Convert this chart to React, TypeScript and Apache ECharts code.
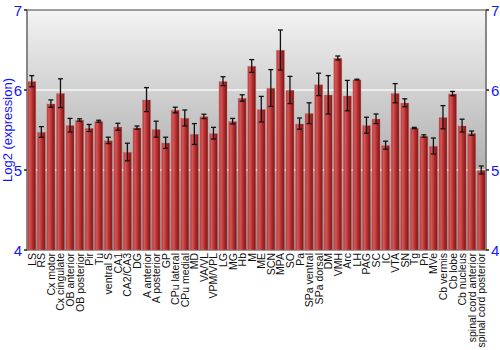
import React, { useEffect, useRef } from "react";
import * as echarts from "echarts";

const categories = [
  "LS", "RS", "Cx motor", "Cx cingulate", "OB anterior", "OB posterior", "Pir", "Tu",
  "ventral S", "CA1", "CA2/CA3", "DG", "A anterior", "A posterior", "GP", "CPu lateral",
  "CPu medial", "MD", "VA/VL", "VPM/VPL", "LG", "MG", "Hb", "M", "ME", "SCN", "MPA",
  "SO", "Pa", "SPa ventral", "SPa dorsal", "DM", "VMH", "Arc", "LH", "PAG", "SC", "IC",
  "VTA", "SN", "Tg", "Pn", "MVe", "Cb vermis", "Cb lobe", "Cb nucleus",
  "spinal cord anterior", "spinal cord posterior",
];

const values = [
  6.11, 5.475, 5.83, 5.96, 5.56, 5.625, 5.525, 5.61,
  5.37, 5.54, 5.225, 5.53, 5.88, 5.51, 5.34, 5.75,
  5.65, 5.45, 5.67, 5.46, 6.11, 5.61, 5.9, 6.3, 5.76, 6.025, 6.5,
  6.0, 5.58, 5.71, 6.07, 5.94, 6.4, 5.93, 6.13, 5.56, 5.64, 5.31,
  5.96, 5.84, 5.525, 5.425, 5.3, 5.66, 5.955, 5.555,
  5.46, 5.0,
];

const errors = [
  0.07, 0.067, 0.046, 0.18, 0.085, 0.015, 0.044, 0.012,
  0.04, 0.044, 0.11, 0.02, 0.15, 0.1, 0.07, 0.035,
  0.1, 0.13, 0.027, 0.073, 0.056, 0.035, 0.04, 0.08, 0.16, 0.23, 0.25,
  0.17, 0.07, 0.13, 0.14, 0.24, 0.025, 0.19, 0.005, 0.1, 0.06, 0.05,
  0.12, 0.05, 0.008, 0.015, 0.1, 0.145, 0.027, 0.08,
  0.027, 0.05,
];

const yTicks = { min: 4, max: 7, interval: 1 };

export default function App() {
  const ref = useRef<HTMLDivElement>(null);

  useEffect(() => {
    if (!ref.current) return;
    const chart = echarts.init(ref.current, undefined, { renderer: "svg" });
    const blue = "#1414ff";
    const errData = values.map((v, i) => [i, v - errors[i], v + errors[i]]);

    const yAxisCommon = {
      type: "value",
      min: yTicks.min,
      max: yTicks.max,
      interval: yTicks.interval,
      axisLine: { show: true, lineStyle: { color: "#808080", width: 1.5 } },
      axisTick: { show: true, length: 3, lineStyle: { color: "#222", width: 1.5 } },
      axisLabel: { color: blue, fontSize: 15, fontFamily: "Liberation Sans, Arial, sans-serif", margin: 5 },
    };

    chart.setOption({
      animation: false,
      grid: {
        left: 27,
        right: 14,
        top: 10,
        bottom: 100,
        containLabel: false,
        outerBoundsMode: "none",
        show: true,
        borderColor: "#808080",
        borderWidth: 1.5,
        backgroundColor: {
          type: "linear",
          x: 0, y: 0, x2: 0, y2: 1,
          colorStops: [
            { offset: 0, color: "#f3f3f3" },
            { offset: 1, color: "#8e8e8e" },
          ],
        },
      },
      xAxis: {
        type: "category",
        data: categories,
        axisLine: { show: false },
        axisTick: { show: false },
        axisLabel: {
          interval: 0,
          rotate: 90,
          fontSize: 10.5,
          color: "#111",
          margin: 3,
          fontFamily: "Liberation Sans, Arial, sans-serif",
        },
      },
      yAxis: [
        {
          ...yAxisCommon,
          position: "left",
          name: "Log2 (expression)",
          nameLocation: "middle",
          nameGap: 13,
          nameMoveOverlap: false,
          nameTextStyle: { color: blue, fontSize: 13, fontFamily: "Liberation Sans, Arial, sans-serif" },
          splitLine: {
            show: true,
            lineStyle: {
              color: ["rgba(0,0,0,0)", "rgba(240,240,240,0.9)", "rgba(240,240,240,0.9)", "rgba(0,0,0,0)"],
              width: 2,
            },
          },
        },
        {
          ...yAxisCommon,
          position: "right",
          splitLine: { show: false },
        },
      ],
      series: [
        {
          type: "bar",
          data: values,
          barCategoryGap: "10%",
          itemStyle: {
            color: {
              type: "linear",
              x: 0, y: 0, x2: 1, y2: 0,
              colorStops: [
                { offset: 0, color: "#b23434" },
                { offset: 0.25, color: "#d45656" },
                { offset: 0.6, color: "#b22e2e" },
                { offset: 1, color: "#7a1212" },
              ],
            },
            borderColor: "rgba(210,120,120,0.6)",
            borderWidth: 0.6,
          },
          z: 2,
        },
        {
          type: "custom",
          data: errData,
          z: 3,
          renderItem: (params: any, api: any) => {
            const x = api.value(0);
            const lo = api.value(1);
            const hi = api.value(2);
            const pHi = api.coord([x, hi]);
            const pLo = api.coord([x, lo]);
            const w = 2.5;
            const style = { stroke: "#111", lineWidth: 1.3 };
            return {
              type: "group",
              children: [
                { type: "line", shape: { x1: pHi[0], y1: pHi[1], x2: pLo[0], y2: pLo[1] }, style },
                { type: "line", shape: { x1: pHi[0] - w, y1: pHi[1], x2: pHi[0] + w, y2: pHi[1] }, style },
                { type: "line", shape: { x1: pLo[0] - w, y1: pLo[1], x2: pLo[0] + w, y2: pLo[1] }, style },
              ],
            };
          },
        },
      ],
    });

    return () => chart.dispose();
  }, []);

  return <div ref={ref} style={{ width: 500, height: 350, position: "absolute", left: 0, top: 0 }} />;
}
